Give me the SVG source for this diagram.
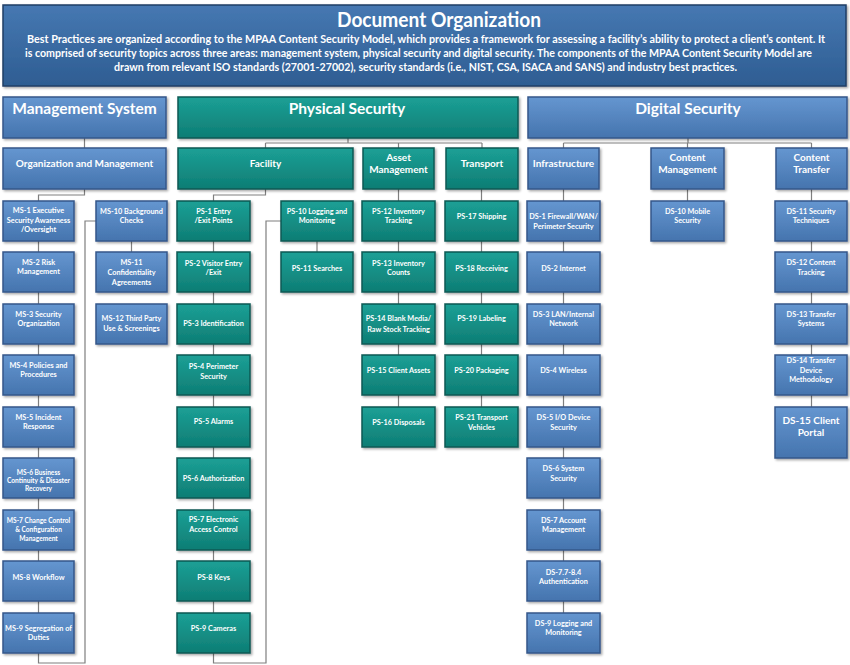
<svg xmlns="http://www.w3.org/2000/svg" width="850" height="665" viewBox="0 0 850 665">
<defs>
<linearGradient id="gHead" x1="0" y1="0" x2="0" y2="1"><stop offset="0" stop-color="#4678b2"/><stop offset="1" stop-color="#2e5d92"/></linearGradient>
<linearGradient id="gBlue" x1="0" y1="0" x2="0" y2="1"><stop offset="0" stop-color="#6596d0"/><stop offset="1" stop-color="#4574ae"/></linearGradient>
<linearGradient id="gTeal" x1="0" y1="0" x2="0" y2="1"><stop offset="0" stop-color="#1ca096"/><stop offset="1" stop-color="#0e7d74"/></linearGradient>
<filter id="sh" x="-10%" y="-10%" width="130%" height="140%"><feDropShadow dx="1.5" dy="1.5" stdDeviation="1" flood-color="#000" flood-opacity="0.35"/></filter>
</defs>
<style>
.hd{fill:url(#gHead);stroke:#1f3f66;stroke-width:1.5;filter:url(#sh)}
.b{fill:url(#gBlue);stroke:#34578a;stroke-width:1.5;filter:url(#sh)}
.t{fill:url(#gTeal);stroke:#0b5a54;stroke-width:1.5;filter:url(#sh)}
text{font-family:Lato,"Liberation Sans",sans-serif;font-weight:bold;fill:#fff;text-anchor:middle}
.h1{font-size:20px}
.hb{font-size:10.5px}
.l1{font-size:15.5px}
.l2{font-size:10px}
.l3{font-size:7.3px}
.s{font-size:6.6px}
.c{fill:none;stroke:#7f7f7f;stroke-width:1.2}
</style>
<g id="header">
<rect class="hd" x="3" y="5" width="843" height="81"/>
<text class="h1" x="439" y="27" textLength="204" lengthAdjust="spacingAndGlyphs">Document Organization</text>
<text class="hb" x="426" y="42.5" textLength="798" lengthAdjust="spacingAndGlyphs">Best Practices are organized according to the MPAA Content Security Model, which provides a framework for assessing a facility’s ability to protect a client’s content.  It</text>
<text class="hb" x="418.5" y="56.5" textLength="787" lengthAdjust="spacingAndGlyphs">is comprised of security topics across three areas: management system, physical security and digital security.  The components of the MPAA Content Security Model are</text>
<text class="hb" x="425.5" y="70.5" textLength="623" lengthAdjust="spacingAndGlyphs">drawn from relevant ISO standards (27001-27002), security standards (i.e., NIST, CSA, ISACA and SANS) and industry best practices.</text>
</g>
<g id="connectors">
<path class="c" d="M84.5,138V148"/>
<path class="c" d="M348,138V143M265.5,143H482M265.5,143V148M398.5,143V148M482,143V148"/>
<path class="c" d="M688,138V143M563.5,143H811.5M563.5,143V148M687.5,143V148M811.5,143V148"/>
<path class="c" d="M84.5,189V195H38.5V201M38.5,241V613M38.5,653V663H85V221H96"/>
<path class="c" d="M131.5,241V252"/>
<path class="c" d="M265.5,189V195H213.5V201M213.5,241V613M213.5,653V663H266V221H281"/>
<path class="c" d="M317,241V252"/>
<path class="c" d="M398.5,189V407"/>
<path class="c" d="M481.5,189V407"/>
<path class="c" d="M563.5,189V613"/>
<path class="c" d="M687.5,189V201"/>
<path class="c" d="M811.5,189V407"/>
</g>
<g id="management-system"><rect class="b" x="3" y="97" width="163" height="41"/><text class="l1" x="84.5" y="113.5">Management System</text></g>
<g id="physical-security"><rect class="t" x="178" y="97" width="340" height="41"/><text class="l1" x="347" y="113.5">Physical Security</text></g>
<g id="digital-security"><rect class="b" x="528" y="97" width="319" height="41"/><text class="l1" x="688" y="113.5">Digital Security</text></g>

<g id="org-mgmt"><rect class="b" x="3" y="148" width="163" height="41"/><text class="l2" x="84.5" y="166.5">Organization and Management</text></g>
<g id="facility"><rect class="t" x="178" y="148" width="175" height="41"/><text class="l2" x="265.5" y="166.5">Facility</text></g>
<g id="asset-mgmt"><rect class="t" x="363" y="148" width="71" height="41"/><text class="l2" x="398.5" y="160.5">Asset</text><text class="l2" x="398.5" y="172.5">Management</text></g>
<g id="transport"><rect class="t" x="446" y="148" width="72" height="41"/><text class="l2" x="482" y="166.5">Transport</text></g>
<g id="infrastructure"><rect class="b" x="528" y="148" width="71" height="41"/><text class="l2" x="563.5" y="166.5">Infrastructure</text></g>
<g id="content-mgmt"><rect class="b" x="651" y="148" width="73" height="41"/><text class="l2" x="687.5" y="160.5">Content</text><text class="l2" x="687.5" y="172.5">Management</text></g>
<g id="content-transfer"><rect class="b" x="776" y="148" width="71" height="41"/><text class="l2" x="811.5" y="160.5">Content</text><text class="l2" x="811.5" y="172.5">Transfer</text></g>

<g id="ms1"><rect class="b" x="3" y="201" width="71" height="40"/><text class="l3" x="38.5" y="213">MS-1 Executive</text><text class="l3" x="38.5" y="222.5">Security Awareness</text><text class="l3" x="38.5" y="232">/Oversight</text></g>
<g id="ms2"><rect class="b" x="3" y="252" width="71" height="40"/><text class="l3" x="38.5" y="264.5">MS-2 Risk</text><text class="l3" x="38.5" y="274">Management</text></g>
<g id="ms3"><rect class="b" x="3" y="304" width="71" height="40"/><text class="l3" x="38.5" y="316.5">MS-3 Security</text><text class="l3" x="38.5" y="326">Organization</text></g>
<g id="ms4"><rect class="b" x="3" y="355" width="71" height="40"/><text class="l3" x="38.5" y="367.5">MS-4 Policies and</text><text class="l3" x="38.5" y="377">Procedures</text></g>
<g id="ms5"><rect class="b" x="3" y="407" width="71" height="40"/><text class="l3" x="38.5" y="419.5">MS-5 Incident</text><text class="l3" x="38.5" y="429">Response</text></g>
<g id="ms6"><rect class="b" x="3" y="458" width="71" height="40"/><text class="s" x="38.5" y="474.5">MS-6 Business</text><text class="s" x="38.5" y="482.5">Continuity &amp; Disaster</text><text class="s" x="38.5" y="490.5">Recovery</text></g>
<g id="ms7"><rect class="b" x="3" y="510" width="71" height="40"/><text class="s" x="38.5" y="522.5">MS-7 Change Control</text><text class="s" x="38.5" y="531.5">&amp; Configuration</text><text class="s" x="38.5" y="540.5">Management</text></g>
<g id="ms8"><rect class="b" x="3" y="561" width="71" height="40"/><text class="l3" x="38.5" y="579.5">MS-8 Workflow</text></g>
<g id="ms9"><rect class="b" x="3" y="613" width="71" height="40"/><text class="l3" x="38.5" y="631">MS-9 Segregation of</text><text class="l3" x="38.5" y="640">Duties</text></g>
<g id="ms10"><rect class="b" x="96" y="201" width="71" height="40"/><text class="l3" x="131.5" y="213.5">MS-10 Background</text><text class="l3" x="131.5" y="222.5">Checks</text></g>
<g id="ms11"><rect class="b" x="96" y="252" width="71" height="40"/><text class="l3" x="131.5" y="264.5">MS-11</text><text class="l3" x="131.5" y="274.5">Confidentiality</text><text class="l3" x="131.5" y="284.5">Agreements</text></g>
<g id="ms12"><rect class="b" x="96" y="304" width="71" height="40"/><text class="l3" x="131.5" y="320.5">MS-12 Third Party</text><text class="l3" x="131.5" y="330.5">Use &amp; Screenings</text></g>

<g id="ps1"><rect class="t" x="177" y="201" width="73" height="40"/><text class="l3" x="213.5" y="213.5">PS-1 Entry</text><text class="l3" x="213.5" y="222.5">/Exit Points</text></g>
<g id="ps2"><rect class="t" x="177" y="252" width="73" height="40"/><text class="l3" x="213.5" y="265.5">PS-2 Visitor Entry</text><text class="l3" x="213.5" y="274.5">/Exit</text></g>
<g id="ps3"><rect class="t" x="177" y="304" width="73" height="40"/><text class="l3" x="213.5" y="325.5">PS-3 Identification</text></g>
<g id="ps4"><rect class="t" x="177" y="355" width="73" height="40"/><text class="l3" x="213.5" y="368.5">PS-4 Perimeter</text><text class="l3" x="213.5" y="378.5">Security</text></g>
<g id="ps5"><rect class="t" x="177" y="407" width="73" height="40"/><text class="l3" x="213.5" y="423.5">PS-5 Alarms</text></g>
<g id="ps6"><rect class="t" x="177" y="458" width="73" height="40"/><text class="l3" x="213.5" y="480.5">PS-6 Authorization</text></g>
<g id="ps7"><rect class="t" x="177" y="510" width="73" height="40"/><text class="l3" x="213.5" y="521.5">PS-7 Electronic</text><text class="l3" x="213.5" y="531.5">Access Control</text></g>
<g id="ps8"><rect class="t" x="177" y="561" width="73" height="40"/><text class="l3" x="213.5" y="579.5">PS-8 Keys</text></g>
<g id="ps9"><rect class="t" x="177" y="613" width="73" height="40"/><text class="l3" x="213.5" y="630.5">PS-9 Cameras</text></g>
<g id="ps10"><rect class="t" x="281" y="201" width="72" height="40"/><text class="l3" x="317" y="213.5">PS-10 Logging and</text><text class="l3" x="317" y="222.5">Monitoring</text></g>
<g id="ps11"><rect class="t" x="281" y="252" width="72" height="40"/><text class="l3" x="317" y="270.5">PS-11 Searches</text></g>

<g id="ps12"><rect class="t" x="362" y="201" width="73" height="40"/><text class="l3" x="398.5" y="213.5">PS-12 Inventory</text><text class="l3" x="398.5" y="222.5">Tracking</text></g>
<g id="ps13"><rect class="t" x="362" y="252" width="73" height="40"/><text class="l3" x="398.5" y="265.5">PS-13 Inventory</text><text class="l3" x="398.5" y="274.5">Counts</text></g>
<g id="ps14"><rect class="t" x="362" y="304" width="73" height="40"/><text class="l3" x="398.5" y="320.5">PS-14 Blank Media/</text><text class="l3" x="398.5" y="331.5">Raw Stock Tracking</text></g>
<g id="ps15"><rect class="t" x="362" y="355" width="73" height="40"/><text class="l3" x="398.5" y="372.5">PS-15 Client Assets</text></g>
<g id="ps16"><rect class="t" x="362" y="407" width="73" height="40"/><text class="l3" x="398.5" y="424.5">PS-16 Disposals</text></g>

<g id="ps17"><rect class="t" x="445" y="201" width="73" height="40"/><text class="l3" x="481.5" y="218.5">PS-17 Shipping</text></g>
<g id="ps18"><rect class="t" x="445" y="252" width="73" height="40"/><text class="l3" x="481.5" y="270.5">PS-18 Receiving</text></g>
<g id="ps19"><rect class="t" x="445" y="304" width="73" height="40"/><text class="l3" x="481.5" y="320.5">PS-19 Labeling</text></g>
<g id="ps20"><rect class="t" x="445" y="355" width="73" height="40"/><text class="l3" x="481.5" y="372.5">PS-20 Packaging</text></g>
<g id="ps21"><rect class="t" x="445" y="407" width="73" height="40"/><text class="l3" x="481.5" y="419.5">PS-21 Transport</text><text class="l3" x="481.5" y="429.5">Vehicles</text></g>

<g id="ds1"><rect class="b" x="527" y="201" width="73" height="40"/><text class="l3" x="563.5" y="218.5">DS-1 Firewall/WAN/</text><text class="l3" x="563.5" y="228.5">Perimeter Security</text></g>
<g id="ds2"><rect class="b" x="527" y="252" width="73" height="40"/><text class="l3" x="563.5" y="270.5">DS-2 Internet</text></g>
<g id="ds3"><rect class="b" x="527" y="304" width="73" height="40"/><text class="l3" x="563.5" y="316.5">DS-3 LAN/Internal</text><text class="l3" x="563.5" y="325.5">Network</text></g>
<g id="ds4"><rect class="b" x="527" y="355" width="73" height="40"/><text class="l3" x="563.5" y="372.5">DS-4 Wireless</text></g>
<g id="ds5"><rect class="b" x="527" y="407" width="73" height="40"/><text class="l3" x="563.5" y="419.5">DS-5 I/O Device</text><text class="l3" x="563.5" y="429.5">Security</text></g>
<g id="ds6"><rect class="b" x="527" y="458" width="73" height="40"/><text class="l3" x="563.5" y="470.5">DS-6 System</text><text class="l3" x="563.5" y="480.5">Security</text></g>
<g id="ds7"><rect class="b" x="527" y="510" width="73" height="40"/><text class="l3" x="563.5" y="522.5">DS-7 Account</text><text class="l3" x="563.5" y="531.5">Management</text></g>
<g id="ds7-8"><rect class="b" x="527" y="561" width="73" height="40"/><text class="l3" x="563.5" y="574.5">DS-7.7-8.4</text><text class="l3" x="563.5" y="583.5">Authentication</text></g>
<g id="ds9"><rect class="b" x="527" y="613" width="73" height="40"/><text class="l3" x="563.5" y="625.5">DS-9 Logging and</text><text class="l3" x="563.5" y="634.5">Monitoring</text></g>

<g id="ds10"><rect class="b" x="651" y="201" width="73" height="40"/><text class="l3" x="687.5" y="213.5">DS-10 Mobile</text><text class="l3" x="687.5" y="222.5">Security</text></g>

<g id="ds11"><rect class="b" x="775" y="201" width="72" height="40"/><text class="l3" x="811" y="213.5">DS-11 Security</text><text class="l3" x="811" y="222.5">Techniques</text></g>
<g id="ds12"><rect class="b" x="775" y="252" width="72" height="40"/><text class="l3" x="811" y="264.5">DS-12 Content</text><text class="l3" x="811" y="274.5">Tracking</text></g>
<g id="ds13"><rect class="b" x="775" y="304" width="72" height="40"/><text class="l3" x="811" y="316.5">DS-13 Transfer</text><text class="l3" x="811" y="325.5">Systems</text></g>
<g id="ds14"><rect class="b" x="775" y="355" width="72" height="40"/><text class="l3" x="811" y="362.5">DS-14 Transfer</text><text class="l3" x="811" y="372.5">Device</text><text class="l3" x="811" y="381.5">Methodology</text></g>
<g id="ds15"><rect class="b" x="775" y="407" width="72" height="51"/><text class="l2" x="811" y="423.5">DS-15 Client</text><text class="l2" x="811" y="435.5">Portal</text></g>
</svg>
